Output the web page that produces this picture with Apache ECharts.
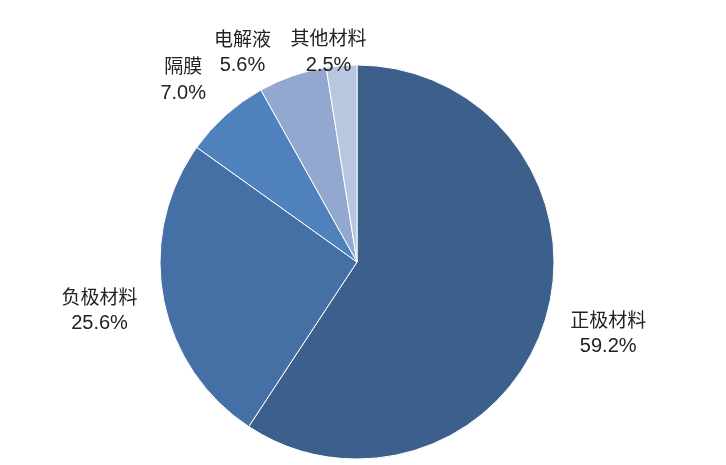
<!DOCTYPE html>
<html><head><meta charset="utf-8">
<script src="https://cdn.jsdelivr.net/npm/echarts@6/dist/echarts.min.js"></script>
<style>html,body{margin:0;padding:0;background:#fff}#c{width:726px;height:465px}</style>
</head><body><div id="c"></div>
<script>
const categories = ['正极材料','负极材料','隔膜','电解液','其他材料'];
const values = [59.2, 25.6, 7.0, 5.6, 2.5];
const colors = ['#3C5F8C','#4570A6','#4F81BD','#93A8CE','#B9C6E0'];

// label nudges (layout only)
const labelShift = [[2, 11], [-8, 10], [32, -71], [55, -50], [37, -2]];

const chart = echarts.init(document.getElementById('c'));
chart.setOption({
  animation: false,
  series: [{
    type: 'pie',
    center: [357, 262],
    radius: 197,
    startAngle: 90,
    clockwise: true,
    avoidLabelOverlap: true,
    data: categories.map((n, i) => ({name: n, value: values[i], itemStyle: {color: colors[i]}})),
    itemStyle: {borderColor: '#fff', borderWidth: 1},
    label: {
      show: true,
      position: 'outside',
      formatter: p => '{n|' + p.name + '}\n{v|' + p.value.toFixed(1) + '%}',
      rich: {
        n: {fontFamily: 'Noto Sans CJK SC', fontSize: 19, color: '#222', lineHeight: 27, align: 'center'},
        v: {fontFamily: 'Liberation Sans, Arial', fontSize: 20, color: '#222', lineHeight: 27, align: 'center'}
      }
    },
    labelLayout: p => ({hideOverlap: false, dx: labelShift[p.dataIndex][0], dy: labelShift[p.dataIndex][1]}),
    labelLine: {show: false, length: 12, length2: 6}
  }]
});
</script></body></html>
